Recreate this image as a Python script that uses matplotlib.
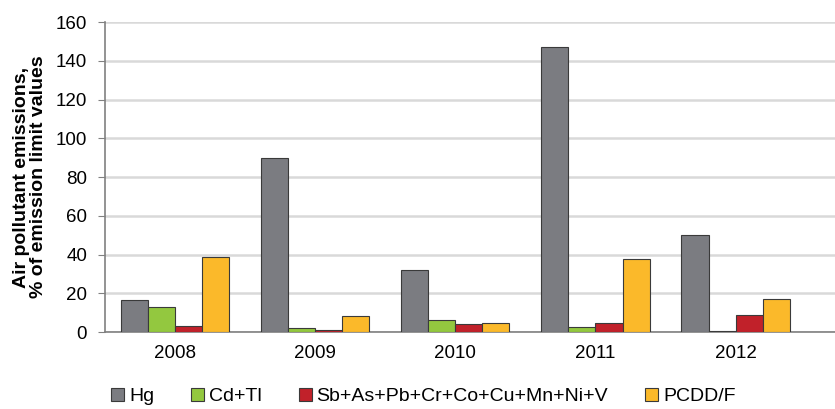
import numpy as np
import matplotlib
matplotlib.use("Agg")
import matplotlib.pyplot as plt

plt.rcParams['font.family'] = ['Liberation Sans', 'DejaVu Sans']

# data
years = ["2008", "2009", "2010", "2011", "2012"]
series_names = ["Hg", "Cd+Tl", "Sb+As+Pb+Cr+Co+Cu+Mn+Ni+V", "PCDD/F"]
hg = [16.5, 90, 32, 147, 50]
cd_tl = [13, 2, 6, 2.5, 0.5]
heavy = [3, 1, 4, 4.5, 9]
pcdd = [39, 8.5, 4.5, 37.5, 17]
colors = ["#7b7c81", "#93c83f", "#c1212a", "#fbb92a"]

values = [hg, cd_tl, heavy, pcdd]

fig = plt.figure(figsize=(8.35, 4.09), dpi=100)
ax = fig.add_axes([0.126, 0.188, 0.874, 0.758])

x = np.arange(len(years))
w = 0.193
for i, (vals, name, c) in enumerate(zip(values, series_names, colors)):
    ax.bar(x + (i - 1.5) * w, vals, w, color=c, edgecolor="#3a3a3a",
           linewidth=0.8, label=name, zorder=3)

ax.set_ylim(0, 160)
ax.set_yticks(range(0, 161, 20))
ax.set_xlim(-0.5, 4.71)
ax.set_xticks(x)
ax.set_xticklabels(years)
ax.yaxis.grid(True, color="#d9d9d9", linewidth=1.8, zorder=0)
ax.tick_params(axis="y", labelsize=13.5, length=5, color="#808080", pad=8)
ax.tick_params(axis="x", labelsize=13.5, length=0, pad=9)
for s in ["top", "right"]:
    ax.spines[s].set_visible(False)
for s in ["left", "bottom"]:
    ax.spines[s].set_color("#808080")
    ax.spines[s].set_linewidth(1.2)

ax.set_ylabel("Air pollutant emissions,\n% of emission limit values",
              fontsize=14, fontweight="bold", linespacing=0.95)
ax.yaxis.set_label_coords(-0.08, 0.5)

fig.legend(loc="center", bbox_to_anchor=(0.507, 0.03), ncol=4,
           frameon=False, fontsize=14, handlelength=0.67, handleheight=0.67,
           handletextpad=0.25, columnspacing=1.9)

fig.savefig("out.png", dpi=100)
